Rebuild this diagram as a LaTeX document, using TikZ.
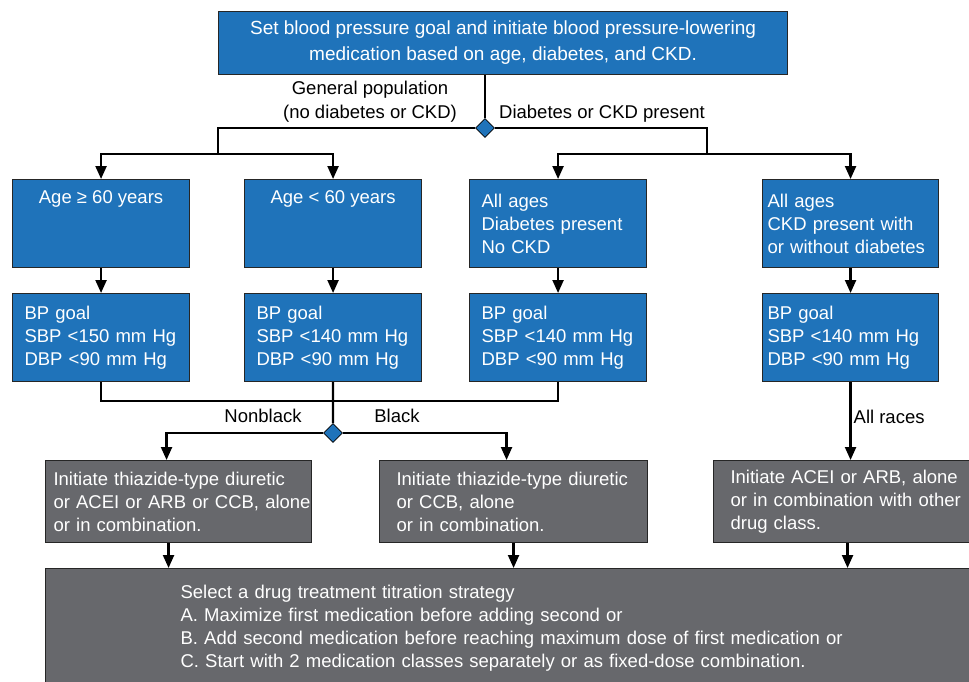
\documentclass[tikz,border=0pt]{standalone}
\usepackage{fontspec}
\setmainfont{Liberation Sans}
\usetikzlibrary{arrows.meta,positioning,shapes.geometric}
\definecolor{bpblue}{RGB}{31,115,186}
\definecolor{bpgray}{RGB}{103,104,108}

\begin{document}
\begin{tikzpicture}[
  x=1pt, y=-1pt,
  font=\fontsize{18.5}{23}\selectfont,
  box/.style={draw=black!85, line width=1.1pt, text=white, anchor=north west, inner ysep=0pt},
  bluebox/.style={box, fill=bpblue, minimum height=88pt},
  graybox/.style={box, fill=bpgray, minimum height=82pt, align=left},
  dia/.style={diamond, draw=black, line width=0.8pt, fill=bpblue, minimum size=19pt, inner sep=0pt},
  lbl/.style={text=black, inner sep=2pt},
  conn/.style={line width=2.2pt},
  arr/.style={-{Triangle[length=13pt,width=11pt]}, line width=2.2pt}
]
\useasboundingbox (0,0) rectangle (969,682);
\node[box, fill=bpblue, minimum width=569pt, minimum height=63pt, align=center,
  font=\fontsize{19}{26}\selectfont] (top) at (218,11)
  {Set blood pressure goal and initiate blood pressure-lowering\\medication based on age, diabetes, and CKD.};
\node[dia] (d1) at (485,128) {};
\coordinate (gl) at (218,154);
\coordinate (gr) at (707,154);
\node[lbl, align=center, font=\fontsize{18.5}{24}\selectfont] (lgen) at (370,102) {General population\\(no diabetes or CKD)};
\node[lbl, anchor=west] (ldia) at (497,114) {Diabetes or CKD present};

\node[bluebox, minimum width=177pt, align=center] (a1) at (12,179) {Age ≥ 60 years\\ \strut\\ \strut};
\node[bluebox, minimum width=177pt, align=center] (a2) at (244,179) {Age < 60 years\\ \strut\\ \strut};
\node[bluebox, inner xsep=12pt, text width=153pt, align=left] (a3) at (469,179) {All ages\\Diabetes present\\No CKD};
\node[bluebox, inner xsep=5pt, text width=166pt, align=left] (a4) at (762,179) {All ages\\CKD present with\\or without diabetes};

\node[bluebox, inner xsep=12pt, text width=153pt, align=left] (b1) at (12,293) {BP goal\\SBP <150 mm Hg\\DBP <90 mm Hg};
\node[bluebox, inner xsep=12pt, text width=153pt, align=left] (b2) at (244,293) {BP goal\\SBP <140 mm Hg\\DBP <90 mm Hg};
\node[bluebox, inner xsep=12pt, text width=153pt, align=left] (b3) at (469,293) {BP goal\\SBP <140 mm Hg\\DBP <90 mm Hg};
\node[bluebox, inner xsep=5pt, text width=166pt, align=left] (b4) at (762,293) {BP goal\\SBP <140 mm Hg\\DBP <90 mm Hg};

\coordinate (gb) at (333,401);
\node[dia] (d2) at (333,433) {};
\node[lbl] (lnb) at (263,416) {Nonblack};
\node[lbl] (lbk) at (397,416) {Black};

\node[graybox, inner xsep=8pt, text width=250pt] (c1) at (45,460) {Initiate thiazide-type diuretic\\\mbox{or ACEI or ARB or CCB, alone}\\or in combination.};
\node[graybox, inner xsep=17pt, text width=234pt] (c2) at (379,460) {Initiate thiazide-type diuretic\\or CCB, alone\\or in combination.};
\node[graybox, inner xsep=17pt, text width=240pt] (c3) at (713,460) {Initiate ACEI or ARB, alone\\or in combination with other\\drug class.};

\node[box, fill=bpgray, align=left, inner xsep=135pt, text width=730pt, minimum height=120pt] (bot) at (45,568)
  {Select a drug treatment titration strategy\\A. Maximize first medication before adding second or\\B. Add second medication before reaching maximum dose of first medication or\\C. Start with 2 medication classes separately or as fixed-dose combination.};

\draw[conn] (d1 |- top.south) -- (d1.north);
\draw[conn] (d1.west) -| (gl);
\draw[conn] (d1.east) -| (gr);
\draw[arr] (gl) -| (a1.north);
\draw[arr] (gl) -| (a2.north);
\draw[arr] (gr) -| (a3.north);
\draw[arr] (gr) -| (a4.north);
\draw[arr] (a1) -- (b1);
\draw[arr] (a2) -- (b2);
\draw[arr] (a3) -- (b3);
\draw[arr] (a4) -- (b4);
\draw[conn] (b1.south) |- (gb) -| (b3.south);
\draw[conn] (b2.south) -- (d2.north);
\draw[arr] (d2.west) -| ([xshift=-12pt]c1.north);
\draw[arr] (d2.east) -| ([xshift=-7pt]c2.north);
\draw[arr] (b4.south) -- node[lbl, right, pos=0.45]{All races} (c3.north);
\draw[arr] ([xshift=-10pt]c1.south) -- ([xshift=-10pt]c1.south |- bot.north);
\draw[arr] (c2.south) -- (c2.south |- bot.north);
\draw[arr] ([xshift=-3pt]c3.south) -- ([xshift=-3pt]c3.south |- bot.north);
\end{tikzpicture}
\end{document}
